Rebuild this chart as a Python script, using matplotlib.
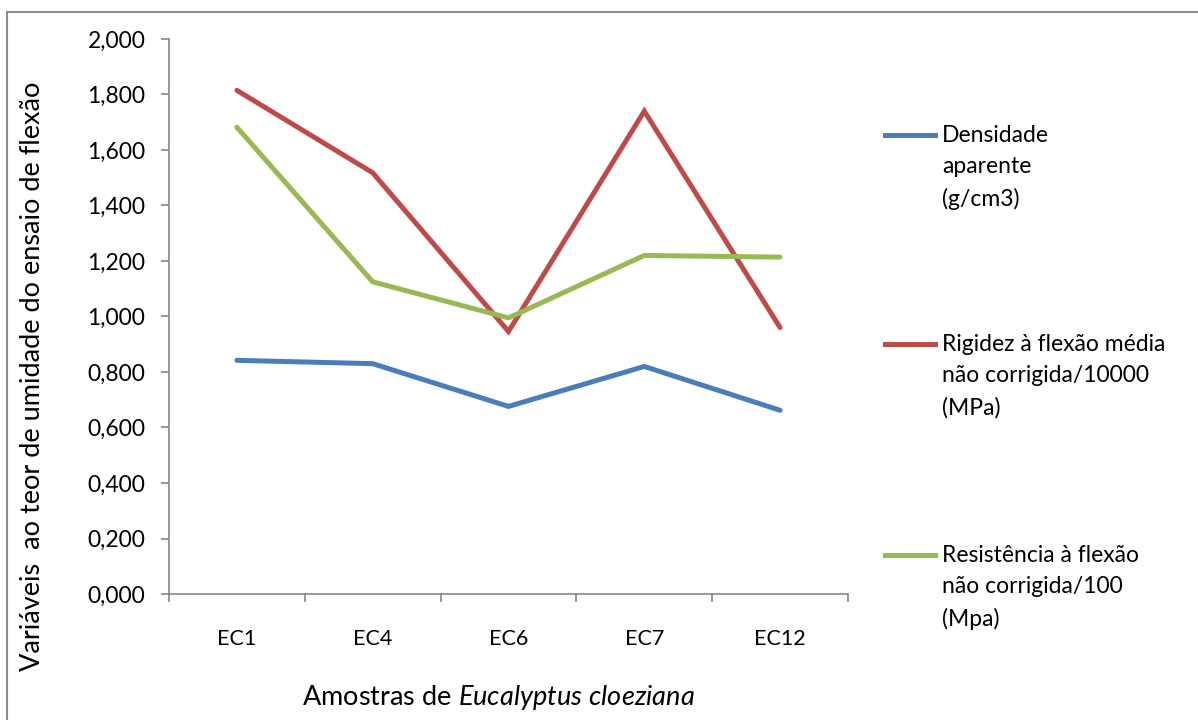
import matplotlib
matplotlib.use("Agg")
import matplotlib.pyplot as plt
from matplotlib.lines import Line2D
from matplotlib.patches import Rectangle
from matplotlib.ticker import FuncFormatter

plt.rcParams['font.family'] = ['Lato', 'DejaVu Sans']
plt.rcParams['mathtext.fontset'] = 'custom'
plt.rcParams['mathtext.it'] = 'Lato:italic'
plt.rcParams['mathtext.rm'] = 'Lato'

amostras = ['EC1', 'EC4', 'EC6', 'EC7', 'EC12']
densidade = [0.842, 0.830, 0.676, 0.820, 0.662]
rigidez = [1.815, 1.518, 0.946, 1.740, 0.960]
resistencia = [1.682, 1.125, 0.995, 1.220, 1.214]

series = [
    (densidade, '#4A7EBB', 'Densidade\naparente\n(g/cm3)'),
    (rigidez, '#BE4B48', 'Rigidez à flexão média\nnão corrigida/10000\n(MPa)'),
    (resistencia, '#98B954', 'Resistência à flexão\nnão corrigida/100\n(Mpa)'),
]

W, H = 1198, 720
fig = plt.figure(figsize=(W / 100, H / 100), dpi=100)
ax = fig.add_axes([169 / W, 1 - 594 / H, (848 - 169) / W, (594 - 39) / H])

x = list(range(len(amostras)))
for vals, cor, nome in series:
    ax.plot(x, vals, color=cor, lw=3.6, solid_joinstyle='miter', solid_capstyle='round')

ax.set_xlim(-0.5, len(amostras) - 0.5)
ax.set_ylim(0, 2.0)
ax.set_yticks([i * 0.2 for i in range(11)])
ax.yaxis.set_major_formatter(FuncFormatter(lambda v, p: f'{v:.3f}'.replace('.', ',')))

# category boundaries carry the tick marks, centers carry the names
ax.set_xticks([i - 0.5 for i in range(len(amostras) + 1)])
ax.set_xticklabels([])
ax.set_xticks(x, minor=True)
ax.set_xticklabels(amostras, minor=True)

grey = '#868686'
for s in ['top', 'right']:
    ax.spines[s].set_visible(False)
for s in ['left', 'bottom']:
    ax.spines[s].set_color(grey)
    ax.spines[s].set_linewidth(1.2)
ax.tick_params(axis='both', which='major', color=grey, length=6, width=1.2, direction='out')
ax.tick_params(axis='y', labelsize=16.5, pad=11)
ax.tick_params(axis='x', which='minor', length=0, labelsize=15.5, pad=25)

fig.text(33 / W, 1 - 376 / H, 'Variáveis  ao teor de umidade do ensaio de flexão',
         rotation=90, ha='center', va='center', fontsize=19.5)
fig.text(498 / W, 1 - 697 / H, r'Amostras de $Eucalyptus\ cloeziana$',
         ha='center', va='center', fontsize=19.5)

# legend keys aligned to the first line of each label
for (vals, cor, nome), ytop in zip(series, [135, 344, 555]):
    fig.add_artist(Line2D([885 / W, 935 / W], [1 - ytop / H] * 2, color=cor, lw=3.6,
                          transform=fig.transFigure))
    fig.text(942 / W, 1 - (ytop - 10) / H, nome, ha='left', va='top',
             fontsize=16.5, linespacing=1.6)

fig.add_artist(Rectangle((7 / W, -0.05), 1.2, 1 - 12 / H + 0.05, transform=fig.transFigure,
                         fill=False, edgecolor='#8c8c8c', lw=1.5))

fig.savefig('out.png', dpi=100)
